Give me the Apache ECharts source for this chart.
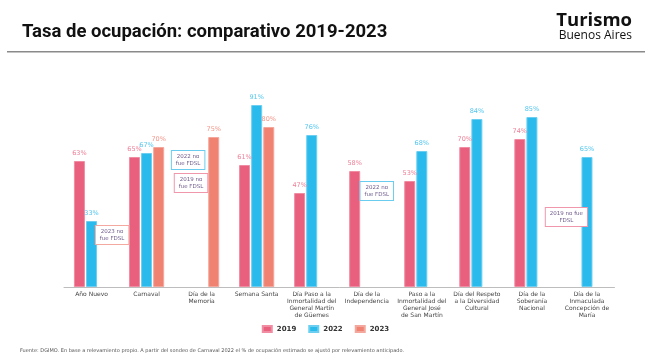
<!DOCTYPE html>
<html>
<head>
<meta charset="utf-8">
<script src="https://cdn.jsdelivr.net/npm/echarts@6/dist/echarts.min.js"></script>
<style>
html,body{margin:0;padding:0;background:#fff;}
#c{width:651px;height:360px;}
</style>
</head>
<body>
<div id="c"></div>
<script>
const categories = ['Año Nuevo','Carnaval','Día de la\nMemoria','Semana Santa','Día Paso a la\nInmortalidad del\nGeneral Martín\nde Güemes','Día de la\nIndependencia','Paso a la\nInmortalidad del\nGeneral José\nde San Martín','Día del Respeto\na la Diversidad\nCultural','Día de la\nSoberanía\nNacional','Día de la\nInmaculada\nConcepción de\nMaría'];
const seriesNames = ['2019','2022','2023'];
const values2019 = [63,65,null,61,47,58,53,70,74,null];
const values2022 = [33,67,null,91,76,null,68,84,85,65];
const values2023 = [null,70,75,80,null,null,null,null,null,null];
const notes = [
  {series:'2023', cat:'Año Nuevo', text:'2023 no\nfue FDSL'},
  {series:'2022', cat:'Día de la\nMemoria', text:'2022 no\nfue FDSL'},
  {series:'2019', cat:'Día de la\nMemoria', text:'2019 no\nfue FDSL'},
  {series:'2022', cat:'Día de la\nIndependencia', text:'2022 no\nfue FDSL'},
  {series:'2019', cat:'Día de la\nInmaculada\nConcepción de\nMaría', text:'2019 no fue\nFDSL'}
];
const noteY = [26, 63.5, 52, 48, 35];
const noteDx = [8.5, -13.5, 1.5, 10, -8.5];

const colors = ['#E9607E','#2ABBEC','#F08272'];
const borderCols = ['#F08DA3','#6CCFF1','#F4A79C'];
const labelCols = ['#EE8098','#52C6EF','#F2968A'];
const noteBorder = {'2019':'#F097AC','2022':'#6ACDEF','2023':'#F3A8A0'};

const chart = echarts.init(document.getElementById('c'));
const allVals = [values2019, values2022, values2023];

const series = seriesNames.map((name, i) => {
  const mp = [];
  notes.forEach((n, k) => {
    if (n.series === name) {
      mp.push({
        coord: [n.cat, noteY[k]],
        value: n.text,
        label: {offset: [noteDx[k], 0]}
      });
    }
  });
  return {
    name: name,
    type: 'bar',
    data: allVals[i],
    barWidth: 11,
    barGap: '10%',
    itemStyle: {color: colors[i], borderColor: borderCols[i], borderWidth: 1},
    label: {
      show: true, position: 'top', distance: 4,
      formatter: p => p.value + '%',
      color: labelCols[i], fontSize: 6.5, fontFamily: 'DejaVu Sans'
    },
    markPoint: {
      symbol: 'rect', symbolSize: 1,
      itemStyle: {color: 'rgba(0,0,0,0)'},
      silent: true,
      label: {
        show: true, position: 'inside',
        formatter: p => p.value,
        color: '#6E5A8C', fontSize: 5.5, lineHeight: 7,
        fontFamily: 'DejaVu Sans', align: 'center',
        backgroundColor: '#fff', borderColor: noteBorder[name], borderWidth: 1,
        padding: [2, 4, 2, 4]
      },
      data: mp
    }
  };
});

chart.setOption({
  animation: false,
  title: [{
    text: 'Tasa de ocupación: comparativo 2019-2023',
    left: 22, top: 23, padding: 0,
    textStyle: {fontFamily: 'Roboto', fontWeight: 'bold', fontSize: 18.5, color: '#111'}
  }],
  graphic: [
    {type: 'text', right: 19, top: 11, style: {text: 'Turismo', font: 'bold 18.5px "Open Sans"', fill: '#111'}},
    {type: 'text', right: 19, top: 30, style: {text: 'Buenos Aires', font: '12px "Open Sans"', fill: '#111'}},
    {type: 'rect', left: 7, top: 51, shape: {width: 638, height: 1.5}, style: {fill: '#8a8a8a'}},
    {type: 'text', left: 20, top: 348, style: {text: 'Fuente: DGIMO. En base a relevamiento propio. A partir del sondeo de Carnaval 2022 el % de ocupación estimado se ajustó por relevamiento anticipado.', font: '5px "DejaVu Sans"', fill: '#555'}}
  ],
  legend: {
    data: seriesNames, left: 'center', top: 320,
    itemWidth: 9, itemHeight: 6, itemGap: 12,
    icon: 'rect',
    textStyle: {fontSize: 7, fontWeight: 'bold', color: '#333', fontFamily: 'DejaVu Sans'}
  },
  grid: {left: 64, right: 36.5, top: 87, bottom: 73},
  xAxis: {
    type: 'category', data: categories,
    axisLine: {lineStyle: {color: '#bdbdbd', width: 1}},
    axisTick: {show: false},
    axisLabel: {interval: 0, fontSize: 6, lineHeight: 7, color: '#444', margin: 4, fontFamily: 'DejaVu Sans'}
  },
  yAxis: {type: 'value', min: 0, max: 100, show: false, splitLine: {show: false}},
  series: series
});
</script>
</body>
</html>
